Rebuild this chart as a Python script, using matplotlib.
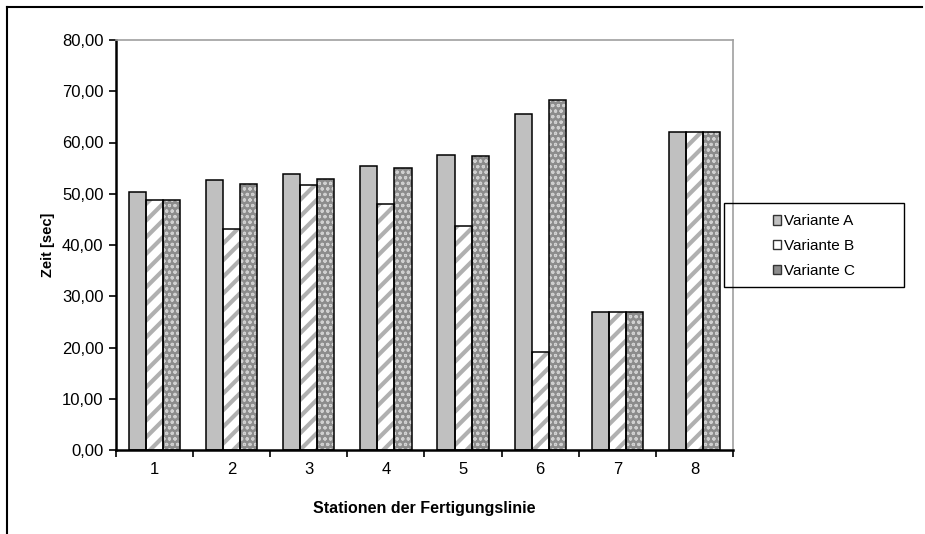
import numpy as np
import matplotlib
matplotlib.use("Agg")
import matplotlib.pyplot as plt
from matplotlib.lines import Line2D
from matplotlib.patches import Rectangle
from matplotlib.ticker import FuncFormatter

# 1. DATA --------------------------------------------------------------
stations = ["1", "2", "3", "4", "5", "6", "7", "8"]
variante_a = [50.3, 52.6, 53.8, 55.4, 57.6, 65.5, 26.9, 62.0]
variante_b = [48.7, 43.1, 51.8, 48.0, 43.7, 19.1, 26.9, 62.0]
variante_c = [48.7, 52.0, 52.9, 55.1, 57.4, 68.3, 26.9, 62.0]
series_names = ["Variante A", "Variante B", "Variante C"]

# 2. STYLE -------------------------------------------------------------
plt.rcParams["font.family"] = ["Liberation Sans", "DejaVu Sans"]
plt.rcParams["font.size"] = 12

fig = plt.figure(figsize=(9.25, 5.34), dpi=100)
ax = fig.add_axes([116 / 925, 1 - 450 / 534, 617 / 925, 410 / 534])

x = np.arange(len(stations))
w = 0.222
styles = [
    # face, hatch, hatch colour, hatch linewidth
    ("#c0c0c0", None, "#c0c0c0", 1.0),
    ("white", "//", "#b0b0b0", 3.0),
    ("#8c8c8c", "ooo", "#d0d0d0", 0.8),
]
handles = []
for i, (vals, (face, hatch, hcol, hlw)) in enumerate(
        zip([variante_a, variante_b, variante_c], styles)):
    pos = x + (i - 1) * w
    with plt.rc_context({"hatch.linewidth": hlw}):
        ax.bar(pos, vals, width=w, color=face, edgecolor=hcol,
               hatch=hatch, linewidth=0, zorder=2)
    ax.bar(pos, vals, width=w, fill=False, edgecolor="black",
           linewidth=1.1, zorder=3)
    h = Rectangle((0, 0), 1, 1, facecolor=face, edgecolor="#333333",
                  linewidth=1.0)
    handles.append(h)

# 3. AXES --------------------------------------------------------------
ax.set_xlim(-0.5, len(stations) - 0.5)
ax.set_ylim(0, 80)
ax.set_yticks(np.arange(0, 81, 10))
ax.yaxis.set_major_formatter(FuncFormatter(lambda v, _: f"{v:.2f}".replace(".", ",")))
ax.set_xticks(x)
ax.set_xticklabels(stations)
ax.set_xticks(np.arange(-0.5, len(stations)), minor=True)
ax.tick_params(axis="x", which="major", length=0, pad=9)
ax.tick_params(axis="x", which="minor", length=5, width=1.2, direction="out")
ax.tick_params(axis="y", length=5, width=1.2, direction="out", pad=4)

for side in ["left", "bottom"]:
    ax.spines[side].set_linewidth(1.8)
for side in ["top", "right"]:
    ax.spines[side].set_color("#a0a0a0")
    ax.spines[side].set_linewidth(1.2)

ax.set_xlabel("Stationen der Fertigungslinie", fontweight="bold",
              fontsize=11.5, labelpad=17)
ax.set_ylabel("Zeit [sec]", fontweight="bold", fontsize=10.5, labelpad=5)

# legend box, content centred inside it
fig.add_artist(Rectangle((724 / 925, 1 - 287 / 534), 180 / 925, 84 / 534,
                         transform=fig.transFigure, fill=False,
                         edgecolor="black", lw=1.0))
fig.legend(handles, series_names, loc="center",
           bbox_to_anchor=(814 / 925, 1 - 246 / 534),
           frameon=False, handlelength=0.55, handleheight=0.55,
           handletextpad=0.2, labelspacing=0.7, borderpad=0, fontsize=11)

# outer chart frame (top and left edges visible)
fig.add_artist(Line2D([7 / 925, 922 / 925], [1 - 7 / 534, 1 - 7 / 534],
                      color="black", lw=1.5, transform=fig.transFigure))
fig.add_artist(Line2D([7 / 925, 7 / 925], [1 - 7 / 534, 0],
                      color="black", lw=1.5, transform=fig.transFigure))

fig.savefig("out.png", dpi=100)
